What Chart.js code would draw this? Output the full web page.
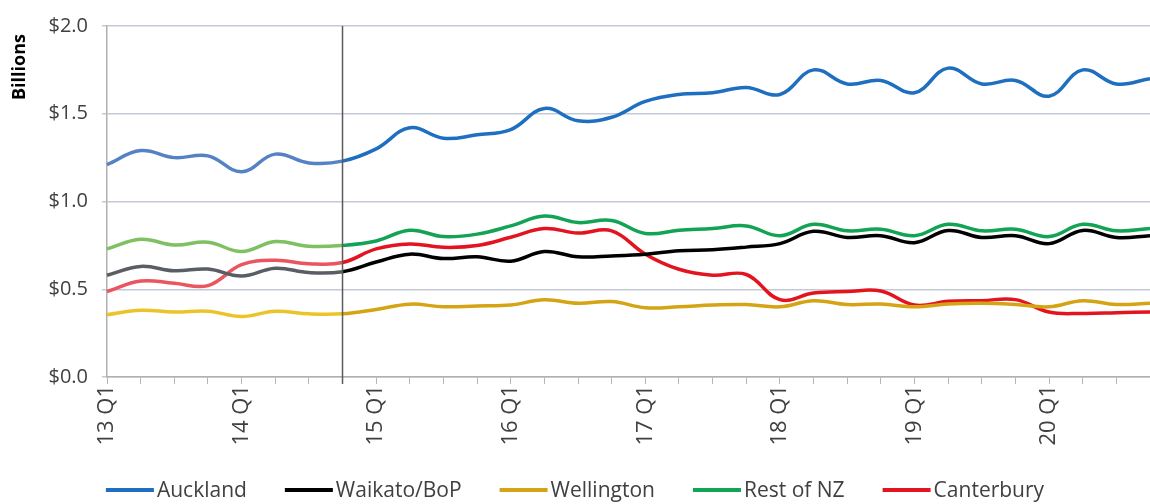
<!DOCTYPE html>
<html>
<head>
<meta charset="utf-8">
<script src="https://cdn.jsdelivr.net/npm/chart.js@4"></script>
<style>
  html, body { margin: 0; padding: 0; background: #fff; }
  #wrap { width: 1150px; height: 504px; }
</style>
</head>
<body>
<div id="wrap"><canvas id="regionChart" width="1150" height="504"></canvas></div>
<script>
// Quarters 13 Q1 .. 20 Q4
const quarters = [];
for (let y = 13; y <= 20; y++) {
    for (let q = 1; q <= 4; q++) quarters.push(y + ' Q' + q);
}

const seriesNames = ['Auckland', 'Waikato/BoP', 'Wellington', 'Rest of NZ', 'Canterbury'];

const auckland = [1.21, 1.29, 1.25, 1.26, 1.17, 1.27, 1.22, 1.23,
                  1.30, 1.42, 1.36, 1.38, 1.41, 1.53, 1.46, 1.48,
                  1.57, 1.61, 1.62, 1.65, 1.61, 1.75, 1.67, 1.69,
                  1.62, 1.76, 1.67, 1.69, 1.60, 1.75, 1.67, 1.70];
const waikato = [0.58, 0.63, 0.605, 0.615, 0.575, 0.62, 0.595, 0.60,
                 0.655, 0.70, 0.675, 0.685, 0.66, 0.715, 0.685, 0.69,
                 0.70, 0.72, 0.725, 0.74, 0.76, 0.83, 0.795, 0.805,
                 0.765, 0.835, 0.795, 0.805, 0.76, 0.835, 0.795, 0.805];
const wellington = [0.355, 0.38, 0.37, 0.375, 0.345, 0.375, 0.36, 0.36,
                    0.385, 0.415, 0.40, 0.405, 0.41, 0.44, 0.42, 0.43,
                    0.395, 0.40, 0.41, 0.413, 0.40, 0.435, 0.413, 0.416,
                    0.40, 0.416, 0.42, 0.413, 0.40, 0.435, 0.413, 0.42];
const restOfNZ = [0.73, 0.785, 0.752, 0.768, 0.715, 0.772, 0.745, 0.75,
                  0.775, 0.836, 0.80, 0.814, 0.861, 0.917, 0.88, 0.892,
                  0.818, 0.836, 0.846, 0.861, 0.805, 0.87, 0.833, 0.842,
                  0.805, 0.87, 0.833, 0.842, 0.80, 0.87, 0.833, 0.846];
const canterbury = [0.487, 0.547, 0.534, 0.521, 0.64, 0.665, 0.646, 0.652,
                    0.73, 0.758, 0.739, 0.749, 0.796, 0.846, 0.82, 0.833,
                    0.70, 0.614, 0.58, 0.584, 0.441, 0.478, 0.487, 0.49,
                    0.41, 0.431, 0.435, 0.441, 0.37, 0.362, 0.366, 0.371];

const yTicks = [0, 0.5, 1.0, 1.5, 2.0];

// Colours: before the break (faded) and after
const colorsBefore = ['#5582c4', '#5a5e64', '#ecc429', '#7fc062', '#ea5560'];
const colorsAfter = ['#1f6fc1', '#000000', '#d4a414', '#12a354', '#e3141f'];
const breakIndex = 7; // 14 Q4

const allValues = [auckland, waikato, wellington, restOfNZ, canterbury];

const datasets = allValues.map((vals, i) => ({
    label: seriesNames[i],
    data: vals,
    borderColor: colorsAfter[i],
    backgroundColor: colorsAfter[i],
    borderWidth: 3.5,
    pointRadius: 0,
    tension: 0.4,
    fill: false,
    segment: {
        borderColor: ctx => ctx.p0DataIndex < breakIndex ? colorsBefore[i] : colorsAfter[i]
    }
}));

const FONT = '"Open Sans", "DejaVu Sans", sans-serif';

// vertical marker, axis title and legend drawn by hand
const extras = {
    id: 'extras',
    afterDatasetsDraw(chart) {
        const ctx = chart.ctx;
        const area = chart.chartArea;
        const xs = chart.scales.x;
        const bx = xs.getPixelForValue(breakIndex);
        ctx.save();
        ctx.strokeStyle = '#5a5a5a';
        ctx.lineWidth = 1.5;
        ctx.beginPath();
        ctx.moveTo(bx, area.top);
        ctx.lineTo(bx, area.bottom + 7);
        ctx.stroke();
        ctx.restore();
    },
    afterDraw(chart) {
        const ctx = chart.ctx;
        ctx.save();
        // "Billions"
        ctx.translate(20, 67);
        ctx.rotate(-Math.PI / 2);
        ctx.font = 'bold 18px ' + FONT;
        ctx.fillStyle = '#000';
        ctx.textAlign = 'center';
        ctx.textBaseline = 'middle';
        ctx.fillText('Billions', 0, 0);
        ctx.restore();

        // legend
        ctx.save();
        ctx.font = '21px ' + FONT;
        ctx.textBaseline = 'middle';
        const lineW = 48, gapText = 3, gapItem = 38, ly = 490;
        const widths = seriesNames.map(n => lineW + gapText + ctx.measureText(n).width);
        const total = widths.reduce((a, b) => a + b, 0) + gapItem * (seriesNames.length - 1);
        let x = (chart.width - total) / 2;
        seriesNames.forEach((n, i) => {
            ctx.strokeStyle = colorsAfter[i];
            ctx.lineWidth = 4;
            ctx.beginPath();
            ctx.moveTo(x, ly);
            ctx.lineTo(x + lineW, ly);
            ctx.stroke();
            ctx.fillStyle = '#404040';
            ctx.textAlign = 'left';
            ctx.fillText(n, x + lineW + gapText, ly + 1);
            x += widths[i] + gapItem;
        });
        ctx.restore();
    }
};

const chart = new Chart(document.getElementById('regionChart').getContext('2d'), {
    type: 'line',
    data: { labels: quarters, datasets: datasets },
    options: {
        responsive: false,
        animation: false,
        layout: { padding: { top: 20, right: 0, bottom: 0, left: 0 } },
        plugins: {
            legend: { display: false },
            tooltip: { enabled: false }
        },
        scales: {
            x: {
                type: 'category',
                offset: false,
                grid: {
                    display: true,
                    drawOnChartArea: false,
                    drawTicks: true,
                    tickLength: 7,
                    color: '#b5b5b5',
                    lineWidth: 1
                },
                border: { display: true, color: '#b0b0b0', width: 1.5 },
                ticks: {
                    autoSkip: false,
                    minRotation: 90,
                    maxRotation: 90,
                    padding: 1,
                    color: '#404040',
                    font: { family: FONT, size: 22 },
                    callback: function(val, idx) {
                        return idx % 4 === 0 ? quarters[idx] : '';
                    }
                },
                afterFit: function(scale) {
                    scale.height = 127;
                    scale.paddingLeft = 0;
                    scale.paddingRight = 0;
                }
            },
            y: {
                min: 0,
                max: 2,
                afterBuildTicks: function(scale) {
                    scale.ticks = yTicks.map(v => ({ value: v }));
                },
                grid: {
                    color: '#c4cad5',
                    lineWidth: 1.5,
                    tickLength: 5
                },
                border: { display: true, color: '#b0b0b0', width: 1.5 },
                ticks: {
                    padding: 14,
                    color: '#404040',
                    font: { family: FONT, size: 20 },
                    callback: v => '$' + Number(v).toFixed(1)
                },
                afterFit: function(scale) {
                    scale.width = 107;
                }
            }
        }
    },
    plugins: [extras]
});
</script>
</body>
</html>
